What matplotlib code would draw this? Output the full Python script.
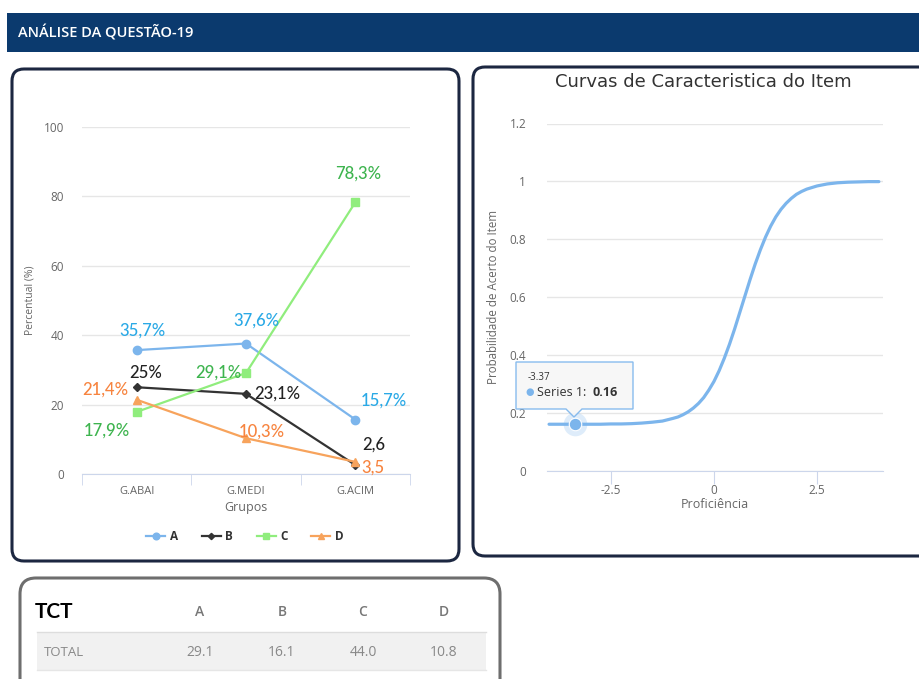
import matplotlib
matplotlib.use("Agg")
import matplotlib.pyplot as plt
from matplotlib.patches import FancyBboxPatch, Rectangle, Polygon
from matplotlib.lines import Line2D

plt.rcParams['font.family'] = ['Open Sans', 'DejaVu Sans']

# dados do grafico de grupos
grupos = ["G.ABAI", "G.MEDI", "G.ACIM"]
alternativas = ["A", "B", "C", "D"]
perc_a = [35.7, 37.6, 15.7]
perc_b = [25, 23.1, 2.6]
perc_c = [17.9, 29.1, 78.3]
perc_d = [21.4, 10.3, 3.5]

# curva caracteristica do item
proficiencia = [-4.0, -3.75, -3.5, -3.25, -3.0, -2.75, -2.5, -2.25, -2.0, -1.75,
                -1.5, -1.25, -1.0, -0.875, -0.75, -0.625, -0.5, -0.375, -0.25, -0.125,
                0.0, 0.125, 0.25, 0.375, 0.5, 0.625, 0.75, 0.875, 1.0, 1.125,
                1.25, 1.375, 1.5, 1.625, 1.75, 1.875, 2.0, 2.125, 2.25, 2.5,
                2.75, 3.0, 3.25, 3.5, 3.75, 4.0]
prob_acerto = [0.160, 0.160, 0.160, 0.160, 0.160, 0.160, 0.161, 0.161, 0.162, 0.164,
               0.167, 0.171, 0.180, 0.185, 0.193, 0.203, 0.216, 0.232, 0.252, 0.278,
               0.308, 0.345, 0.388, 0.436, 0.489, 0.546, 0.603, 0.660, 0.714, 0.763,
               0.807, 0.845, 0.877, 0.903, 0.924, 0.941, 0.955, 0.965, 0.973, 0.984,
               0.991, 0.995, 0.997, 0.998, 0.999, 0.999]
ponto_x = -3.37
ponto_y = 0.16

# tabela TCT
tct_total = [29.1, 16.1, 44.0, 10.8]

W, H = 920, 679
fig = plt.figure(figsize=(W / 100, H / 100), dpi=100)
fig.patch.set_facecolor('white')

# camada de fundo em pixels
bg = fig.add_axes([0, 0, 1, 1])
bg.set_xlim(0, W)
bg.set_ylim(H, 0)
bg.axis('off')

bg.add_patch(Rectangle((7, 13), W - 7, 39, facecolor='#0b3a6e', edgecolor='none'))
bg.text(18, 33, "ANÁLISE DA QUESTÃO-19", color='white', fontsize=10.5,
        fontweight='semibold', va='center', ha='left')

def painel(x, y, w, h, cor, lw, r):
    bg.add_patch(FancyBboxPatch((x, y), w, h, boxstyle=f"round,pad=0,rounding_size={r}",
                                facecolor='white', edgecolor=cor, linewidth=lw))

painel(12, 69, 447, 492, '#1c2741', 2.2, 12)
painel(473, 67, 470, 489, '#1c2741', 2.2, 12)
painel(20, 578, 480, 120, '#6e6e6e', 2.2, 16)

# ---- grafico de percentuais por grupo ----
ax = fig.add_axes([82 / W, 1 - 474 / H, 328 / W, 347 / H])
ax.set_facecolor('none')
ax.set_xlim(-0.5, 2.5)
ax.set_ylim(0, 100)
ax.set_yticks([0, 20, 40, 60, 80, 100])
ax.grid(axis='y', color='#e6e6e6', linewidth=1)
ax.set_axisbelow(True)
for s in ['top', 'right', 'left']:
    ax.spines[s].set_visible(False)
ax.spines['bottom'].set_color('#ccd6eb')
ax.set_xticks(range(len(grupos)))
ax.set_xticklabels(grupos)
ax.set_xticks([-0.5, 0.5, 1.5, 2.5], minor=True)
ax.tick_params(axis='x', which='major', length=0, pad=9, labelsize=8, labelcolor='#666')
ax.tick_params(axis='x', which='minor', length=8, color='#ccd6eb')
ax.tick_params(axis='y', length=0, pad=13, labelsize=8.5, labelcolor='#666')

series = [
    ("A", perc_a, '#7cb5ec', '#2aa9e6', 'o', 6, [(6, 20), (10, 23), (29, 19)], [True, True, True]),
    ("B", perc_b, '#333333', '#222222', 'D', 4, [(9, 14), (31, 0), (18, 20)], [True, True, False]),
    ("C", perc_c, '#90ed7d', '#3db44e', 's', 5.5, [(-30, -19), (-28, 0), (3, 29)], [True, True, True]),
    ("D", perc_d, '#f7a35c', '#f7843f', '^', 6, [(-31, 10), (16, 7), (18, -6)], [True, True, False]),
]
x = list(range(len(grupos)))
handles = []
for nome, vals, cor, cor_txt, mk, ms, offs, pct in series:
    ax.plot(x, vals, color=cor, linewidth=1.6, marker=mk, markersize=ms, clip_on=False)
    handles.append(Line2D([], [], color=cor, linewidth=1.6, marker=mk, markersize=ms * 0.8))
    for xi, v, off, p in zip(x, vals, offs, pct):
        txt = f"{v:g}".replace('.', ',') + ("%" if p else "")
        ax.annotate(txt, (xi, v), xytext=off, textcoords='offset pixels',
                    ha='center', va='center', color=cor_txt, fontsize=12,
                    fontweight='medium', family=['Lato', 'DejaVu Sans'])

bg.text(30, 300, "Percentual (%)", rotation=90, color='#666', fontsize=7.5,
        ha='center', va='center')
bg.text(246, 508, "Grupos", color='#666', fontsize=9, ha='center', va='center')
bg.legend(handles, alternativas, loc='center', bbox_to_anchor=(245 / W, 1 - 537 / H),
          ncol=4, frameon=False, handlelength=1.6, columnspacing=2.0, handletextpad=0.4,
          prop={'size': 8.5, 'weight': 'bold'}, labelcolor='#333')

# ---- curva caracteristica do item ----
ax2 = fig.add_axes([547 / W, 1 - 470.5 / H, 336 / W, 347 / H])
ax2.set_facecolor('none')
ax2.set_xlim(-4.05, 4.1)
ax2.set_ylim(0, 1.2)
ax2.set_yticks([0, 0.2, 0.4, 0.6, 0.8, 1.0, 1.2])
ax2.set_yticklabels(['0', '0.2', '0.4', '0.6', '0.8', '1', '1.2'])
ax2.set_xticks([-2.5, 0, 2.5])
ax2.set_xticklabels(['-2.5', '0', '2.5'])
ax2.grid(axis='y', color='#e6e6e6', linewidth=1)
ax2.set_axisbelow(True)
for s in ['top', 'right', 'left']:
    ax2.spines[s].set_visible(False)
ax2.spines['bottom'].set_color('#ccd6eb')
ax2.tick_params(axis='x', length=9, color='#ccd6eb', pad=1, labelsize=8.5, labelcolor='#666')
ax2.tick_params(axis='y', length=0, pad=15, labelsize=8.5, labelcolor='#666')

ax2.plot(proficiencia, prob_acerto, color='#7cb5ec', linewidth=2.3,
         solid_capstyle='round', solid_joinstyle='round')
ax2.plot(ponto_x, ponto_y, 'o', color='#7cb5ec', markersize=17, alpha=0.25, markeredgewidth=0)
ax2.plot(ponto_x, ponto_y, 'o', color='#7cb5ec', markersize=9, markeredgecolor='white',
         markeredgewidth=0.8)

bg.text(703, 82, "Curvas de Caracteristica do Item", color='#333', fontsize=13,
        ha='center', va='center', family='DejaVu Sans')
bg.text(494, 297, "Probabilidade de Acerto do Item", rotation=90, color='#666',
        fontsize=8.3, ha='center', va='center')
bg.text(715, 504, "Proficiência", color='#666', fontsize=9, ha='center', va='center')

# tooltip por cima de tudo
fg = fig.add_axes([0, 0, 1, 1], zorder=10)
fg.set_xlim(0, W)
fg.set_ylim(H, 0)
fg.axis('off')
fg.patch.set_alpha(0)
fg.add_patch(Polygon([(516, 362), (633, 362), (633, 409), (582, 409), (574, 417),
                      (566, 409), (516, 409)], closed=True, facecolor='#f7f7f7',
                     edgecolor='#7cb5ec', linewidth=1, alpha=0.9))
fg.text(528, 377, f"{ponto_x:.2f}", color='#333', fontsize=7, va='center')
fg.text(530, 392, "●", color='#7cb5ec', fontsize=7, va='center', ha='center',
        family='DejaVu Sans')
fg.text(537, 392, "Series 1:", color='#333', fontsize=9, va='center')
fg.text(593, 392, f"{ponto_y:.2f}", color='#333', fontsize=9, va='center', fontweight='bold')

# ---- tabela TCT ----
col_x = [200, 282, 363, 444]
bg.add_patch(Rectangle((37, 632), 449, 38, facecolor='#f1f1f1', edgecolor='none'))
bg.plot([37, 486], [632, 632], color='#dddddd', linewidth=1)
bg.plot([37, 486], [670, 670], color='#e6e6e6', linewidth=1)
bg.text(35, 612, "TCT", color='black', fontsize=15, fontweight='bold', va='center',
        family=['Lato', 'DejaVu Sans'])
bg.text(44, 652, "TOTAL", color='#888', fontsize=9.5, va='center')
for cx, letra, v in zip(col_x, alternativas, tct_total):
    bg.text(cx, 612, letra, color='#777', fontsize=10, fontweight='semibold',
            ha='center', va='center')
    bg.text(cx, 652, f"{v:.1f}", color='#888', fontsize=10, ha='center', va='center')

fig.savefig("out.png", dpi=100)
